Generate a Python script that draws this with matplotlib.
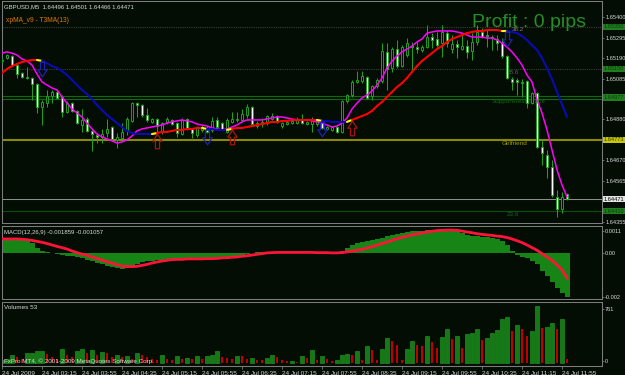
import matplotlib
matplotlib.use('Agg')
import matplotlib.pyplot as plt
import matplotlib.transforms as mtrans
from matplotlib.patches import Rectangle
from matplotlib.collections import LineCollection
from matplotlib.path import Path

plt.rcParams['font.family'] = ['Liberation Sans', 'DejaVu Sans']

# ---------------- data ----------------
time_labels = ['24 Jul 2009', '24 Jul 03:15', '24 Jul 03:55', '24 Jul 04:35', '24 Jul 05:15',
               '24 Jul 05:55', '24 Jul 06:35', '24 Jul 07:15', '24 Jul 07:55', '24 Jul 08:35',
               '24 Jul 09:15', '24 Jul 09:55', '24 Jul 10:35', '24 Jul 11:15', '24 Jul 11:55']
label_bars = [0, 8, 16, 24, 32, 40, 48, 56, 64, 72, 80, 88, 96, 104, 112]

opens = [1.65176, 1.65191, 1.65201, 1.65155, 1.65114, 1.65094, 1.65089, 1.65058, 1.64941, 1.64961,
         1.64997, 1.65018, 1.64992, 1.64916, 1.64961, 1.64921, 1.64849, 1.64880, 1.64819, 1.64798,
         1.64788, 1.64808, 1.64839, 1.64773, 1.64783, 1.64819, 1.64870, 1.64961, 1.64951, 1.64900,
         1.64865, 1.64880, 1.64814, 1.64865, 1.64875, 1.64859, 1.64803, 1.64880, 1.64829, 1.64798,
         1.64824, 1.64834, 1.64824, 1.64875, 1.64859, 1.64814, 1.64865, 1.64875, 1.64875, 1.64900,
         1.64941, 1.64844, 1.64854, 1.64859, 1.64880, 1.64895, 1.64844, 1.64854, 1.64859, 1.64859,
         1.64880, 1.64854, 1.64854, 1.64854, 1.64859, 1.64829, 1.64824, 1.64839, 1.64814, 1.64972,
         1.65002, 1.65069, 1.65074, 1.65094, 1.64997, 1.65048, 1.65074, 1.65222, 1.65140, 1.65237,
         1.65150, 1.65206, 1.65252, 1.65247, 1.65232, 1.65247, 1.65298, 1.65288, 1.65267, 1.65318,
         1.65237, 1.65262, 1.65237, 1.65252, 1.65227, 1.65273, 1.65324, 1.65308, 1.65298, 1.65288,
         1.65273, 1.65201, 1.65084, 1.65079, 1.65069, 1.65074, 1.64961, 1.65012, 1.64737, 1.64696,
         1.64635, 1.64482, 1.64421, 1.64496]
highs = [1.65191, 1.65211, 1.65206, 1.65160, 1.65120, 1.65145, 1.65094, 1.65063, 1.64977, 1.65028,
         1.65028, 1.65028, 1.65002, 1.64972, 1.64967, 1.64926, 1.64931, 1.64890, 1.64824, 1.64808,
         1.64829, 1.64880, 1.64844, 1.64808, 1.64859, 1.64890, 1.64967, 1.64967, 1.64956, 1.64936,
         1.64885, 1.64885, 1.64865, 1.64890, 1.64880, 1.64865, 1.64885, 1.64885, 1.64834, 1.64844,
         1.64849, 1.64844, 1.64890, 1.64890, 1.64865, 1.64885, 1.64916, 1.64916, 1.64931, 1.64956,
         1.64946, 1.64870, 1.64885, 1.64900, 1.64910, 1.64900, 1.64865, 1.64870, 1.64875, 1.64890,
         1.64905, 1.64870, 1.64890, 1.64875, 1.64865, 1.64844, 1.64844, 1.64844, 1.64977, 1.65007,
         1.65079, 1.65125, 1.65125, 1.65099, 1.65053, 1.65089, 1.65267, 1.65267, 1.65247, 1.65283,
         1.65257, 1.65293, 1.65273, 1.65273, 1.65257, 1.65359, 1.65318, 1.65324, 1.65359, 1.65334,
         1.65308, 1.65283, 1.65308, 1.65283, 1.65318, 1.65359, 1.65344, 1.65334, 1.65308, 1.65308,
         1.65293, 1.65206, 1.65094, 1.65089, 1.65084, 1.65079, 1.65018, 1.65018, 1.64773, 1.64722,
         1.64671, 1.64518, 1.64508, 1.64501]
lows = [1.65165, 1.65186, 1.65150, 1.65089, 1.65089, 1.65084, 1.64977, 1.64910, 1.64849, 1.64941,
        1.64961, 1.64982, 1.64890, 1.64910, 1.64916, 1.64854, 1.64814, 1.64814, 1.64717, 1.64757,
        1.64757, 1.64788, 1.64773, 1.64732, 1.64773, 1.64798, 1.64865, 1.64890, 1.64890, 1.64865,
        1.64859, 1.64808, 1.64803, 1.64854, 1.64849, 1.64788, 1.64798, 1.64824, 1.64783, 1.64788,
        1.64814, 1.64808, 1.64814, 1.64824, 1.64824, 1.64808, 1.64859, 1.64865, 1.64865, 1.64885,
        1.64849, 1.64834, 1.64839, 1.64849, 1.64875, 1.64859, 1.64834, 1.64849, 1.64854, 1.64854,
        1.64854, 1.64849, 1.64814, 1.64844, 1.64829, 1.64824, 1.64819, 1.64808, 1.64808, 1.64961,
        1.64992, 1.65063, 1.65063, 1.64982, 1.64977, 1.65038, 1.65063, 1.65028, 1.65120, 1.65140,
        1.65145, 1.65196, 1.65120, 1.65216, 1.65222, 1.65242, 1.65242, 1.65247, 1.65196, 1.65247,
        1.65216, 1.65191, 1.65232, 1.65191, 1.65181, 1.65257, 1.65293, 1.65247, 1.65232, 1.65232,
        1.65191, 1.65084, 1.65028, 1.65002, 1.64992, 1.64936, 1.64956, 1.64732, 1.64645, 1.64579,
        1.64482, 1.64380, 1.64400, 1.64466]
closes = [1.65181, 1.65206, 1.65155, 1.65109, 1.65094, 1.65089, 1.65058, 1.64941, 1.64967, 1.64997,
          1.65018, 1.64987, 1.64916, 1.64961, 1.64921, 1.64859, 1.64875, 1.64819, 1.64803, 1.64788,
          1.64803, 1.64829, 1.64778, 1.64788, 1.64814, 1.64880, 1.64961, 1.64951, 1.64900, 1.64875,
          1.64880, 1.64844, 1.64859, 1.64880, 1.64854, 1.64808, 1.64875, 1.64829, 1.64808, 1.64839,
          1.64839, 1.64814, 1.64870, 1.64839, 1.64829, 1.64875, 1.64880, 1.64880, 1.64905, 1.64941,
          1.64854, 1.64859, 1.64865, 1.64895, 1.64895, 1.64865, 1.64859, 1.64865, 1.64870, 1.64875,
          1.64859, 1.64865, 1.64875, 1.64870, 1.64834, 1.64839, 1.64839, 1.64814, 1.64972, 1.65002,
          1.65069, 1.65079, 1.65099, 1.64987, 1.65048, 1.65079, 1.65227, 1.65135, 1.65237, 1.65150,
          1.65247, 1.65267, 1.65247, 1.65237, 1.65247, 1.65298, 1.65283, 1.65257, 1.65324, 1.65267,
          1.65262, 1.65247, 1.65252, 1.65222, 1.65273, 1.65324, 1.65298, 1.65303, 1.65293, 1.65267,
          1.65201, 1.65089, 1.65069, 1.65069, 1.65063, 1.64961, 1.65012, 1.64737, 1.64706, 1.64635,
          1.64492, 1.64421, 1.64482, 1.64471]

ma_fast = [1.65216, 1.65222, 1.65216, 1.65206, 1.65186, 1.65176, 1.65155, 1.65109, 1.65069, 1.65053,
           1.65038, 1.65028, 1.64992, 1.64961, 1.64931, 1.64910, 1.64890, 1.64859, 1.64829, 1.64803,
           1.64788, 1.64778, 1.64768, 1.64757, 1.64763, 1.64773, 1.64793, 1.64819, 1.64829, 1.64834,
           1.64839, 1.64844, 1.64849, 1.64859, 1.64865, 1.64870, 1.64875, 1.64870, 1.64865, 1.64854,
           1.64849, 1.64844, 1.64834, 1.64829, 1.64824, 1.64829, 1.64839, 1.64849, 1.64865, 1.64875,
           1.64875, 1.64875, 1.64875, 1.64880, 1.64885, 1.64890, 1.64890, 1.64885, 1.64880, 1.64875,
           1.64875, 1.64875, 1.64870, 1.64865, 1.64859, 1.64849, 1.64839, 1.64844, 1.64859, 1.64885,
           1.64931, 1.64961, 1.64987, 1.65002, 1.65023, 1.65053, 1.65089, 1.65140, 1.65176, 1.65201,
           1.65222, 1.65237, 1.65252, 1.65273, 1.65288, 1.65318, 1.65324, 1.65329, 1.65329, 1.65329,
           1.65329, 1.65324, 1.65318, 1.65308, 1.65298, 1.65298, 1.65298, 1.65293, 1.65293, 1.65283,
           1.65267, 1.65247, 1.65222, 1.65191, 1.65155, 1.65104, 1.65069, 1.64977, 1.64910, 1.64824,
           1.64722, 1.64620, 1.64543, 1.64482]

t3ma = [1.65114, 1.65135, 1.65150, 1.65160, 1.65171, 1.65176, 1.65181, 1.65181, 1.65176, 1.65165,
        1.65150, 1.65140, 1.65125, 1.65104, 1.65079, 1.65053, 1.65028, 1.65007, 1.64982, 1.64951,
        1.64926, 1.64900, 1.64880, 1.64859, 1.64839, 1.64819, 1.64808, 1.64803, 1.64803, 1.64803,
        1.64803, 1.64808, 1.64814, 1.64814, 1.64819, 1.64824, 1.64824, 1.64829, 1.64829, 1.64834,
        1.64834, 1.64829, 1.64829, 1.64824, 1.64824, 1.64824, 1.64829, 1.64834, 1.64834, 1.64839,
        1.64844, 1.64849, 1.64854, 1.64859, 1.64865, 1.64865, 1.64870, 1.64870, 1.64875, 1.64875,
        1.64875, 1.64875, 1.64875, 1.64875, 1.64870, 1.64870, 1.64865, 1.64865, 1.64865, 1.64865,
        1.64875, 1.64885, 1.64895, 1.64905, 1.64921, 1.64946, 1.64967, 1.64992, 1.65018, 1.65043,
        1.65063, 1.65089, 1.65120, 1.65150, 1.65176, 1.65196, 1.65216, 1.65237, 1.65252, 1.65273,
        1.65288, 1.65298, 1.65308, 1.65318, 1.65324, 1.65329, 1.65329, 1.65334, 1.65334, 1.65334,
        1.65329, 1.65329, 1.65324, 1.65318, 1.65303, 1.65283, 1.65257, 1.65232, 1.65191, 1.65140,
        1.65084, 1.65018, 1.64956, 1.64890]
signal_bars = [8, 31, 41, 46, 64, 70, 101]
signal_dirs = ['down', 'up', 'down', 'up', 'down', 'up', 'down']

macd_main = [0.00057, 0.00057, 0.00057, 0.00057, 0.00056, 0.00050, 0.00039, 0.00018, 0.00007, 0.00001,
             -0.00003, -0.00006, -0.00008, -0.00013, -0.00015, -0.00018, -0.00022, -0.00029, -0.00035, -0.00042,
             -0.00047, -0.00054, -0.00060, -0.00064, -0.00067, -0.00065, -0.00058, -0.00046, -0.00039, -0.00035,
             -0.00033, -0.00031, -0.00029, -0.00028, -0.00026, -0.00026, -0.00026, -0.00026, -0.00026, -0.00026,
             -0.00026, -0.00025, -0.00024, -0.00021, -0.00019, -0.00018, -0.00017, -0.00014, -0.00010, -0.00004,
             -0.00001, 0.00001, 0.00002, 0.00003, 0.00004, 0.00004, 0.00003, 0.00003, 0.00003, 0.00003,
             0.00003, 0.00002, 0.00002, 0.00001, 0.00000, -0.00002, -0.00003, -0.00004, 0.00008, 0.00018,
             0.00032, 0.00042, 0.00046, 0.00049, 0.00051, 0.00056, 0.00061, 0.00069, 0.00074, 0.00079,
             0.00083, 0.00086, 0.00089, 0.00090, 0.00092, 0.00093, 0.00094, 0.00096, 0.00096, 0.00096,
             0.00094, 0.00089, 0.00081, 0.00075, 0.00069, 0.00068, 0.00067, 0.00065, 0.00063, 0.00058,
             0.00050, 0.00032, 0.00007, -0.00008, -0.00017, -0.00024, -0.00033, -0.00049, -0.00075, -0.00097,
             -0.00121, -0.00146, -0.00167, -0.001859]
macd_signal = [0.00057, 0.00057, 0.00057, 0.00057, 0.00056, 0.00054, 0.00051, 0.00047, 0.00043, 0.00038,
               0.00032, 0.00026, 0.00021, 0.00015, 0.00007, 0.00000, -0.00006, -0.00011, -0.00018, -0.00024,
               -0.00031, -0.00038, -0.00044, -0.00050, -0.00056, -0.00058, -0.00058, -0.00057, -0.00053, -0.00049,
               -0.00043, -0.00039, -0.00035, -0.00032, -0.00029, -0.00028, -0.00028, -0.00026, -0.00026, -0.00026,
               -0.00026, -0.00025, -0.00025, -0.00024, -0.00022, -0.00021, -0.00019, -0.00018, -0.00015, -0.00013,
               -0.00010, -0.00007, -0.00004, -0.00001, 0.00000, 0.00001, 0.00001, 0.00001, 0.00001, 0.00001,
               0.00001, 0.00001, 0.00001, 0.00000, 0.00000, 0.00000, -0.00001, -0.00001, 0.00000, 0.00003,
               0.00006, 0.00010, 0.00014, 0.00019, 0.00025, 0.00031, 0.00038, 0.00044, 0.00051, 0.00058,
               0.00064, 0.00069, 0.00074, 0.00078, 0.00082, 0.00086, 0.00089, 0.00092, 0.00093, 0.00094,
               0.00094, 0.00093, 0.00090, 0.00086, 0.00083, 0.00079, 0.00076, 0.00074, 0.00072, 0.00069,
               0.00067, 0.00063, 0.00057, 0.00050, 0.00042, 0.00032, 0.00021, 0.00010, -0.00004, -0.00018,
               -0.00033, -0.00051, -0.00072, -0.001057]

volumes = [36, 58, 102, 80, 60, 138, 140, 160, 165, 125,
           80, 50, 182, 111, 80, 156, 191, 138, 178, 111,
           147, 138, 80, 111, 80, 90, 60, 134, 105, 80,
           55, 45, 111, 58, 45, 93, 58, 71, 50, 93,
           58, 93, 102, 160, 80, 67, 50, 98, 95, 60,
           71, 45, 40, 67, 111, 80, 36, 22, 31, 20,
           93, 71, 178, 36, 93, 58, 30, 36, 111, 125,
           111, 160, 36, 222, 169, 36, 191, 334, 289, 245,
           36, 182, 289, 245, 222, 360, 280, 200, 351, 458,
           325, 360, 200, 392, 405, 454, 302, 334, 400, 445,
           583, 614, 423, 503, 458, 360, 423, 761, 467, 476,
           538, 458, 583, 53]

price_ticks = [1.65400, 1.65295, 1.65190, 1.65085, 1.64880, 1.64670, 1.64565, 1.64355]
level_prices = [1.65350, 1.65135, 1.64995, 1.64983, 1.64773, 1.64471, 1.64410]
level_styles = ['dot', 'dot', 'green', 'green', 'olive', 'bid', 'dkgreen']
box_prices = [1.65350, 1.65135, 1.64989, 1.64773, 1.64471, 1.64410]
box_labels = ['1.65350', '1.65150', '1.64977', '1.64773', '1.64471', '1.64410']
box_kinds = ['green', 'green', 'green', 'yellow', 'white', 'green']
level_texts = ['38.2', '28.6', 'SupportResistance', 'Girlfriend', '23.6']
level_text_bars = [102, 101, 98, 100, 101]
level_text_prices = [1.65350, 1.65135, 1.64983, 1.64773, 1.64410]

# ---------------- style ----------------
BG = '#040d04'
FRAME = '#7c7c7c'
CANDLE = '#1fa01f'
TXT = '#d8d8d8'
W, H = 625, 375
FS = 4.1

fig = plt.figure(figsize=(W / 100, H / 100), dpi=100, facecolor=BG)


def axes_px(x0, y0, x1, y1):
    a = fig.add_axes([x0 / W, 1 - y1 / H, (x1 - x0) / W, (y1 - y0) / H])
    a.set_facecolor(BG)
    for s in a.spines.values():
        s.set_color(FRAME)
        s.set_linewidth(0.75)
    a.set_xlim(0, 120)
    a.tick_params(axis='x', bottom=False, labelbottom=False)
    a.yaxis.tick_right()
    a.tick_params(axis='y', colors=FRAME, labelcolor=TXT, labelsize=FS, length=1.5,
                  width=0.6, pad=0.8)
    return a


ax = axes_px(2, 1, 602, 223)
axm = axes_px(2, 226, 602, 299)
axv = axes_px(2, 302, 602, 366)

n = len(opens)
xs = list(range(n))

# ---------- main chart ----------
ax.set_ylim(1.64349, 1.65482)
ax.set_yticks(price_ticks)
ax.set_yticklabels(['%.5f' % p for p in price_ticks])

style_map = {
    'dot': dict(color='#3c3c3c', lw=0.8, ls=(0, (1, 1))),
    'green': dict(color='#0d6a0d', lw=0.8, ls='-'),
    'olive': dict(color='#8a8a00', lw=1.5, ls='-'),
    'bid': dict(color='#8c8c8c', lw=0.75, ls='-'),
    'dkgreen': dict(color='#0a500a', lw=0.8, ls='-'),
}
for p, st in zip(level_prices, level_styles):
    ax.axhline(p, zorder=1, **style_map[st])

text_cols = ['#7a7a7a', '#5a5a5a', '#0f6a0f', '#a0a000', '#0f6a0f']
for t, b, p, c in zip(level_texts, level_text_bars, level_text_prices, text_cols):
    ax.text(b, p - 0.00003, t, color=c, fontsize=4.6, ha='left', va='top', zorder=2)

for i in xs:
    o, h, l, c = opens[i], highs[i], lows[i], closes[i]
    ax.plot([i, i], [l, h], color=CANDLE, lw=0.75, zorder=3, solid_capstyle='butt')
    lo, hi = min(o, c), max(o, c)
    fc = BG if c > o else 'white'
    if hi - lo < 2e-6:
        ax.plot([i - 0.3, i + 0.3], [o, o], color=CANDLE, lw=0.75, zorder=4)
    else:
        ax.add_patch(Rectangle((i - 0.28, lo), 0.56, hi - lo, facecolor=fc,
                               edgecolor=CANDLE, lw=0.7, zorder=4))

ax.plot(xs, ma_fast, color='#ff00ff', lw=1.1, zorder=5)

turns = dict(zip(signal_bars, signal_dirs))
trend = 'up'
segs, cols = [], []
for i in range(1, n):
    if i in turns:
        col = '#ffff00'
        trend = turns[i]
    else:
        col = '#ff0000' if trend == 'up' else '#0a0ab4'
    segs.append([(i - 1, t3ma[i - 1]), (i, t3ma[i])])
    cols.append(col)
ax.add_collection(LineCollection(segs, colors=cols, linewidths=1.5, zorder=6,
                                 capstyle='round'))

# hollow arrow markers
up_verts = [(-0.14, -0.5), (0.14, -0.5), (0.14, 0.02), (0.32, 0.02), (0.0, 0.5),
            (-0.32, 0.02), (-0.14, 0.02), (-0.14, -0.5)]
up_path = Path(up_verts, [Path.MOVETO] + [Path.LINETO] * 6 + [Path.CLOSEPOLY])
dn_path = Path([(x, -y) for x, y in up_verts], up_path.codes)
for b, d in zip(signal_bars, signal_dirs):
    ax.plot([b], [t3ma[b] - 0.00040], marker=up_path if d == 'up' else dn_path,
            markersize=10.5, markerfacecolor='none', markeredgewidth=0.9,
            markeredgecolor='#a81414' if d == 'up' else '#2020b4', zorder=7)

blend = mtrans.blended_transform_factory(ax.transAxes, ax.transData)
box_style = {'green': ('#1f7f1f', '#0b3b0b'), 'yellow': ('#c8c800', '#3a3a00'),
             'white': ('#e6e6e6', '#000000')}
for p, lab, k in zip(box_prices, box_labels, box_kinds):
    fc, tc = box_style[k]
    ax.text(1.003, p, lab, transform=blend, fontsize=FS, color=tc, ha='left', va='center',
            bbox=dict(boxstyle='square,pad=0.15', fc=fc, ec='none'), clip_on=False, zorder=8)

ax.text(0.004, 0.985, 'GBPUSD,M5  1.64496 1.64501 1.64466 1.64471', transform=ax.transAxes,
        color=TXT, fontsize=4.3, ha='left', va='top')
ax.text(0.006, 0.93, 'xpMA_v9 - T3MA(13)', transform=ax.transAxes, color='#e07a00',
        fontsize=4.8, ha='left', va='top')
fig.text(472 / W, 1 - 27 / H, 'Profit : 0 pips', color='#268e26', fontsize=14,
         ha='left', va='baseline')

# ---------- MACD ----------
axm.set_ylim(-0.00193, 0.00111)
axm.bar(xs, macd_main, width=1.0, color='#168516', linewidth=0, zorder=2)
axm.plot(xs, macd_signal, color='#ff1438', lw=2.0, zorder=3)
axm.set_yticks([0.0009, 0.0, -0.00185])
axm.set_yticklabels(['0.0011', '0.00', '-0.002'])
axm.text(0.004, 0.95, 'MACD(12,26,9) -0.001859 -0.001057', transform=axm.transAxes,
         color=TXT, fontsize=4.3, ha='left', va='top')

# ---------- Volumes ----------
axv.set_ylim(-40, 814)
g_x, g_v, r_x, r_v = [], [], [], []
for i, v in enumerate(volumes):
    if i == 0 or v > volumes[i - 1]:
        g_x.append(i); g_v.append(v)
    else:
        r_x.append(i); r_v.append(v)
axv.bar(g_x, g_v, width=0.9, color='#157a15', edgecolor='#22a022', linewidth=0.4, zorder=2)
axv.bar(r_x, r_v, width=0.28, color='#c00000', linewidth=0, zorder=2)
axv.set_yticks([720, 25])
axv.set_yticklabels(['761', '0'])
axv.text(0.004, 0.95, 'Volumes 53', transform=axv.transAxes, color=TXT, fontsize=4.6,
         ha='left', va='top')
axv.text(0.004, 0.03, 'FxPro MT4, \u00a9 2001-2009 MetaQuotes Software Corp.',
         transform=axv.transAxes, color=TXT, fontsize=4.5, ha='left', va='bottom')

axv.set_xticks(label_bars)
axv.set_xticklabels(time_labels)
axv.tick_params(axis='x', bottom=True, labelbottom=True, colors=FRAME, labelcolor=TXT,
                labelsize=4.6, length=2.5, width=0.6, pad=0.8)
for lbl in axv.get_xticklabels():
    lbl.set_ha('left')

fig.savefig('out.png', dpi=100, facecolor=BG)
